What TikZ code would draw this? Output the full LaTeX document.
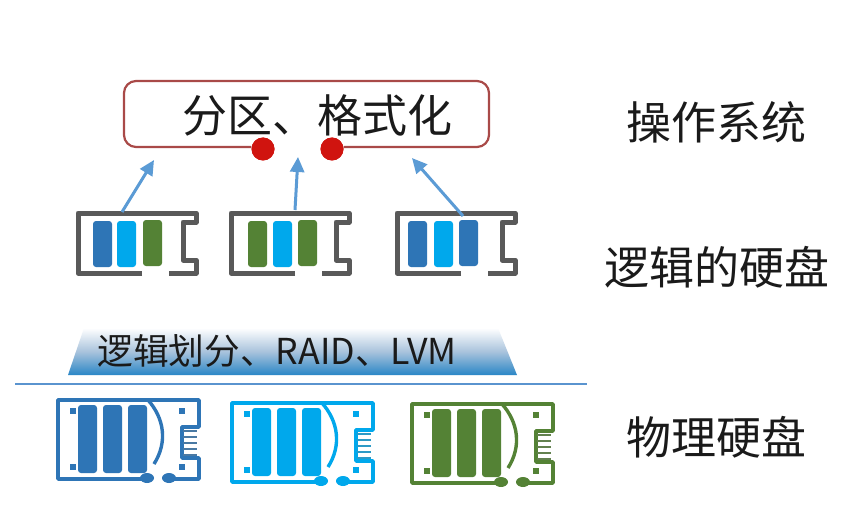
\documentclass[tikz,border=0pt]{standalone}
\usepackage{fontspec}
\setmainfont{Noto Sans CJK SC}
\definecolor{barblue}{HTML}{2E75B6}
\definecolor{barcyan}{HTML}{00A8EC}
\definecolor{bargreen}{HTML}{548235}
\definecolor{shell}{HTML}{595959}
\definecolor{arrowblue}{HTML}{5B9BD5}
\definecolor{boxred}{HTML}{A94A48}
\definecolor{dotred}{HTML}{D0140F}
\definecolor{ink}{HTML}{1A1A1A}
\definecolor{trapbottom}{HTML}{2A86C6}
\definecolor{trapmid}{HTML}{A9C3DC}
\definecolor{divline}{HTML}{5A94CF}
\usetikzlibrary{arrows.meta}
\tikzset{
  lbl/.style={font=\fontsize{45}{45}\selectfont,text=ink,inner sep=0pt},
  uparrow/.style={arrowblue,line width=3pt,-{Triangle[length=15pt,width=14pt]}},
  barbox/.style={rounded corners=3pt,fill=#1,draw=none},
  reddot/.style={circle,fill=dotred,draw=none,minimum size=23pt,inner sep=0pt}
}
% logical disk: #1 left x, #2,#3,#4 colours, #5,#6,#7 bar left offsets
\newcommand{\logdisk}[7]{%
  \begin{scope}[shift={(#1,0)}]
    \fill[barbox=#2] (#5,221) rectangle ++(19,46);
    \fill[barbox=#3] (#6,221) rectangle ++(19,46);
    \fill[barbox=#4] (#7,220) rectangle ++(19,46);
    \draw[shell,line width=5pt,line join=round] (64,273) -- (0,273) -- (0,213) -- (118,213) -- (118,222) -- (105,222) -- (105,260) -- (118,260) -- (118,273) -- (91,273);
  \end{scope}}
% physical disk: #1 dx, #2 dy, #3 colour
\newcommand{\physdisk}[3]{%
  \begin{scope}[shift={(#1,#2)}]
    \fill[barbox=#3] (78,405) rectangle (97,473);
    \fill[barbox=#3] (103,405) rectangle (122,473);
    \fill[barbox=#3] (128,405) rectangle (147,473);
    \draw[#3,line width=3.4pt,line join=round] (147,479) -- (58,479) -- (58,400) -- (199,400) -- (199,427) -- (182,427) -- (182,458) -- (199,458) -- (199,479) -- (167,479);
    \draw[#3,line width=3.4pt] (148,400) .. controls (164,418) and (168,442) .. (154,464);
    \fill[#3] (147,478) ellipse (7pt and 5pt);
    \fill[#3] (169,478) ellipse (7pt and 5pt);
    \foreach \px/\py in {73/411,73/467,182/411,182/467}
      \fill[#3] (\px-3,\py-3) rectangle ++(6,6);
    \foreach \py in {431,437,443,449,455}
      \draw[#3!65!gray,line width=2.4pt] (183,\py) -- (197,\py);
  \end{scope}}
\begin{document}
\begin{tikzpicture}[x=1pt,y=-1pt]
\useasboundingbox (0,0) rectangle (854,532);
\fill[white] (0,0) rectangle (854,532);

% top box
\node[reddot] (dotL) at (263,149) {};
\node[reddot] (dotR) at (332,149) {};
\draw[boxred,line width=2.2pt,rounded corners=12pt] (dotL.west) ++(0,-2) -- (124,147) -- (124,81) -- (489,81) -- (489,147) -- (dotR.east |- 0,147);
\node[reddot] at (263,149) {};
\node[reddot] at (332,149) {};
\node[lbl] (fmt) at (317.5,115) {分区、格式化};

% logical disks
\logdisk{78}{barblue}{barcyan}{bargreen}{15}{39}{65}
\logdisk{231}{bargreen}{barcyan}{bargreen}{17}{42}{67}
\logdisk{397}{barblue}{barcyan}{barblue}{11}{37}{62}

% arrows
\coordinate (a1s) at (122,212); \coordinate (a1e) at (154,160);
\coordinate (a2s) at (295,210); \coordinate (a2e) at (298,157);
\coordinate (a3s) at (463,216); \coordinate (a3e) at (412,158);
\draw[uparrow] (a1s) -- (a1e);
\draw[uparrow] (a2s) -- (a2e);
\draw[uparrow] (a3s) -- (a3e);

% trapezoid
\path[top color=white,bottom color=trapbottom,middle color=trapmid] (84,328) -- (498,328) -- (517,375) -- (68,375) -- cycle;
\node[font=\fontsize{35.7}{36}\selectfont,text=ink,inner sep=0pt] (lv) at (277,351) {逻辑划分、RAID、LVM};

% divider
\coordinate (divL) at (15,384); \coordinate (divR) at (587,384);
\draw[divline,line width=2.6pt] (divL) -- (divR);

% physical disks
\physdisk{0}{0}{barblue}
\physdisk{174}{3}{barcyan}
\physdisk{354}{4}{bargreen}

% labels
\node[lbl] (os) at (716,122) {操作系统};
\node[lbl] (ld) at (716.5,267) {逻辑的硬盘};
\node[lbl] (pd) at (716,437) {物理硬盘};
\end{tikzpicture}
\end{document}
